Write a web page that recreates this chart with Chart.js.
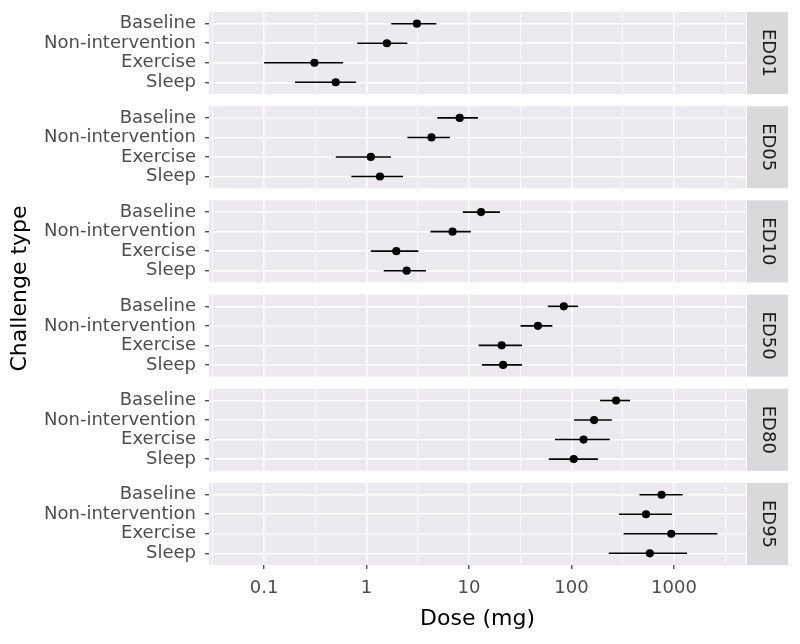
<!DOCTYPE html>
<html>
<head>
<meta charset="utf-8">
<script src="https://cdn.jsdelivr.net/npm/chart.js@4/dist/chart.umd.min.js"></script>
<style>
  html, body { margin: 0; padding: 0; background: #ffffff; }
  canvas { display: block; }
</style>
</head>
<body>
<canvas id="doseChart" width="800" height="644"></canvas>
<script>
// Facetas (niveles de dosis) y tipos de desafío
const levels = ['ED01', 'ED05', 'ED10', 'ED50', 'ED80', 'ED95'];
const challenges = ['Baseline', 'Non-intervention', 'Exercise', 'Sleep'];

// Estimaciones puntuales (mg), una fila por nivel
const pointEst = [
    [3.1, 1.58, 0.31, 0.50],
    [8.1, 4.3, 1.1, 1.35],
    [13.1, 6.9, 1.95, 2.46],
    [84, 47, 20.8, 21.5],
    [272, 166, 131, 105],
    [755, 533, 940, 580]
];

// Intervalos de confianza
const lowerCI = [
    [1.74, 0.81, 0.10, 0.20],
    [4.9, 2.5, 0.50, 0.71],
    [8.7, 4.2, 1.1, 1.47],
    [58.6, 31.8, 12.4, 13.4],
    [190, 106, 69, 60],
    [460, 290, 322, 231]
];
const upperCI = [
    [4.8, 2.5, 0.59, 0.79],
    [12.2, 6.5, 1.73, 2.27],
    [20, 10.4, 3.2, 3.8],
    [116, 65, 32.9, 32.9],
    [372, 247, 236, 181],
    [1213, 957, 2650, 1340]
];

const xMajorTicks = [0.1, 1, 10, 100, 1000];
const xMinorTicks = [0.0316, 0.316, 3.16, 31.6, 316, 3162];

// Geometría de paneles en unidades del eje y
const PANEL_SPAN = 4.2;
const GAP = 0.626;
const STEP = PANEL_SPAN + GAP;
const Y_MAX = levels.length * STEP - GAP;

function rowPos(k, r) {
    return k * STEP + 0.6 + r;
}

// Construir datasets
const datasets = [];
const points = [];
levels.forEach((lvl, k) => {
    challenges.forEach((ch, r) => {
        points.push({ x: pointEst[k][r], y: rowPos(k, r) });
    });
});
datasets.push({
    data: points,
    backgroundColor: '#000000',
    borderWidth: 0,
    pointRadius: 4.1
});
levels.forEach((lvl, k) => {
    challenges.forEach((ch, r) => {
        datasets.push({
            data: [
                { x: lowerCI[k][r], y: rowPos(k, r) },
                { x: upperCI[k][r], y: rowPos(k, r) }
            ],
            showLine: true,
            borderColor: '#000000',
            borderWidth: 1.6,
            pointRadius: 0
        });
    });
});

// Fondos de paneles y tiras de faceta
const facetPlugin = {
    id: 'facetPanels',
    beforeDraw(chart) {
        const { ctx, chartArea, scales } = chart;
        const y = scales.y;
        ctx.save();
        levels.forEach((lvl, k) => {
            const top = y.getPixelForValue(k * STEP);
            const bottom = y.getPixelForValue(k * STEP + PANEL_SPAN);
            ctx.fillStyle = '#ECEAEE';
            ctx.fillRect(chartArea.left, top, chartArea.right - chartArea.left, bottom - top);
            ctx.fillStyle = '#D9D8DA';
            ctx.fillRect(chartArea.right + 1, top, 41, bottom - top);
            ctx.save();
            ctx.translate(chartArea.right + 21.5, (top + bottom) / 2);
            ctx.rotate(Math.PI / 2);
            ctx.fillStyle = '#1A1A1A';
            ctx.font = '18px "DejaVu Sans"';
            ctx.textAlign = 'center';
            ctx.textBaseline = 'middle';
            ctx.fillText(lvl, 0, 0);
            ctx.restore();
        });
        ctx.restore();
    }
};

function isMajor(v) {
    return xMajorTicks.some(t => Math.abs(t - v) / t < 1e-6);
}

document.addEventListener('DOMContentLoaded', function() {
    const ctx = document.getElementById('doseChart').getContext('2d');

    new Chart(ctx, {
        type: 'scatter',
        data: { datasets: datasets },
        plugins: [facetPlugin],
        options: {
            responsive: false,
            animation: false,
            layout: { padding: { left: 0, right: 54, top: 12, bottom: 0 } },
            plugins: {
                legend: { display: false },
                tooltip: { enabled: false }
            },
            scales: {
                x: {
                    type: 'logarithmic',
                    min: 0.029,
                    max: 5040,
                    afterBuildTicks: function(scale) {
                        scale.ticks = xMinorTicks.concat(xMajorTicks)
                            .sort((a, b) => a - b)
                            .map(v => ({ value: v }));
                    },
                    afterFit: function(scale) {
                        scale.height = 79;
                        scale.paddingLeft = 0;
                        scale.paddingRight = 0;
                    },
                    ticks: {
                        autoSkip: false,
                        maxRotation: 0,
                        padding: 9,
                        color: '#4D4D4D',
                        font: { family: 'DejaVu Sans', size: 18 },
                        callback: function(value) {
                            return isMajor(value) ? String(value) : '';
                        }
                    },
                    grid: {
                        color: '#FFFFFF',
                        lineWidth: function(c) {
                            return c.tick && isMajor(c.tick.value) ? 1.5 : 0.75;
                        },
                        drawTicks: true,
                        tickLength: 4,
                        tickColor: function(c) {
                            return c.tick && isMajor(c.tick.value) ? '#333333' : 'rgba(0,0,0,0)';
                        },
                        tickWidth: 1.2
                    },
                    border: { display: false },
                    title: {
                        display: true,
                        text: 'Dose (mg)',
                        color: '#000000',
                        font: { family: 'DejaVu Sans', size: 22 },
                        padding: { top: 0, bottom: 12 }
                    }
                },
                y: {
                    type: 'linear',
                    reverse: true,
                    min: 0,
                    max: Y_MAX,
                    afterBuildTicks: function(scale) {
                        const t = [];
                        levels.forEach((lvl, k) => {
                            challenges.forEach((ch, r) => t.push({ value: rowPos(k, r) }));
                        });
                        scale.ticks = t;
                    },
                    afterFit: function(scale) {
                        scale.width = 209;
                        scale.paddingTop = 0;
                        scale.paddingBottom = 0;
                    },
                    ticks: {
                        autoSkip: false,
                        padding: 9,
                        color: '#4D4D4D',
                        font: { family: 'DejaVu Sans', size: 18 },
                        callback: function(value, index) {
                            return challenges[index % challenges.length];
                        }
                    },
                    grid: {
                        color: '#FFFFFF',
                        lineWidth: 1.5,
                        drawTicks: true,
                        tickLength: 4,
                        tickColor: '#333333',
                        tickWidth: 1.2
                    },
                    border: { display: false },
                    title: {
                        display: true,
                        text: 'Challenge type',
                        color: '#000000',
                        font: { family: 'DejaVu Sans', size: 22 },
                        padding: { top: 7, bottom: 0 }
                    }
                }
            }
        }
    });
});
</script>
</body>
</html>
